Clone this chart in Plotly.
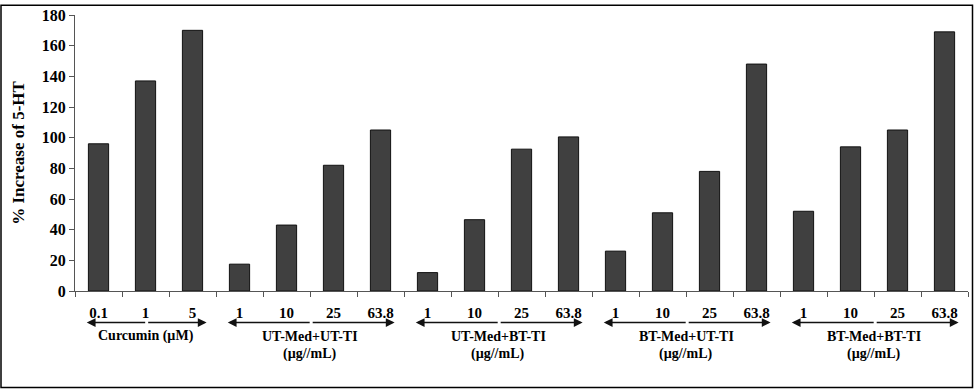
import plotly.graph_objects as go

# ---- data ----
tick_labels = ["0.1", "1", "5",
               "1", "10", "25", "63.8",
               "1", "10", "25", "63.8",
               "1", "10", "25", "63.8",
               "1", "10", "25", "63.8"]
values = [96, 137, 170,
          17.5, 43, 82, 105,
          12, 46.5, 92.5, 100.5,
          26, 51, 78, 148,
          52, 94, 105, 169]
group_names = ["Curcumin (µM)", "UT-Med+UT-TI", "UT-Med+BT-TI", "BT-Med+UT-TI", "BT-Med+BT-TI"]
group_units = ["", "(µg//mL)", "(µg//mL)", "(µg//mL)", "(µg//mL)"]
group_sizes = [3, 4, 4, 4, 4]
y_title = "% Increase of 5-HT"

FONT = "Liberation Serif"
W, H = 975, 391
ML, MR, MT, MB = 75, 7, 11, 100
PW, PH = W - ML - MR, H - MT - MB

x = list(range(len(values)))

fig = go.Figure()
fig.add_trace(go.Bar(
    x=x, y=values, width=0.43,
    marker=dict(color="#404040", line=dict(color="#111111", width=1)),
    hoverinfo="y",
))

def py(pix):
    # pixel row -> paper y
    return (H - MB - pix) / PH

annotations = []
start = 0
for name, unit, n in zip(group_names, group_units, group_sizes):
    left = start - 0.5 + 0.25
    right = start + n - 0.5 - 0.2
    mid = (left + right) / 2
    yarr = py(323)
    for tip in (left, right):
        annotations.append(dict(
            x=tip, y=yarr, xref="x", yref="paper",
            ax=mid, axref="x", ay=0, ayref="pixel",
            text="", showarrow=True, arrowhead=2, arrowsize=1.1,
            arrowwidth=1.6, arrowcolor="#111111",
        ))
    center = start + (n - 1) / 2
    annotations.append(dict(
        x=center, y=py(337), xref="x", yref="paper", text=name,
        showarrow=False, yanchor="middle",
        font=dict(family=FONT, size=14, color="black", weight="bold"),
    ))
    if unit:
        annotations.append(dict(
            x=center, y=py(355), xref="x", yref="paper", text=unit,
            showarrow=False, yanchor="middle",
            font=dict(family=FONT, size=14, color="black", weight="bold"),
        ))
    start += n

fig.update_layout(
    width=W, height=H,
    margin=dict(l=ML, r=MR, t=MT, b=MB),
    paper_bgcolor="white", plot_bgcolor="white",
    showlegend=False,
    annotations=annotations,
    shapes=[dict(type="rect", xref="paper", yref="paper",
                 x0=(1 - ML) / PW, x1=(W - 2.5 - ML) / PW,
                 y0=py(H - 2), y1=py(1),
                 line=dict(color="black", width=1.5))],
    xaxis=dict(
        range=[-0.5, len(values) - 0.5],
        tickmode="array", tickvals=x, ticktext=tick_labels,
        ticks="", showgrid=False, zeroline=False,
        showline=True, linecolor="#555555", linewidth=1.2,
        ticklabelstandoff=8,
        tickfont=dict(family=FONT, size=15, color="black", weight="bold"),
        minor=dict(ticks="outside", tickmode="linear", tick0=-0.5, dtick=1,
                   ticklen=5, tickcolor="#555555", tickwidth=1.2, showgrid=False),
    ),
    yaxis=dict(
        range=[0, 180], dtick=20, tick0=0,
        ticks="outside", ticklen=5, tickcolor="#555555", tickwidth=1.2,
        showline=True, linecolor="#555555", linewidth=1.2,
        showgrid=False, zeroline=False,
        tickfont=dict(family=FONT, size=16, color="black", weight="bold"),
        title=dict(text=y_title, standoff=12,
                   font=dict(family=FONT, size=17, color="black", weight="bold")),
    ),
)

fig.write_html(
    "out.html",
    config={"displayModeBar": False},
    post_script="document.body.style.margin='0';document.body.style.overflow='hidden';",
)
